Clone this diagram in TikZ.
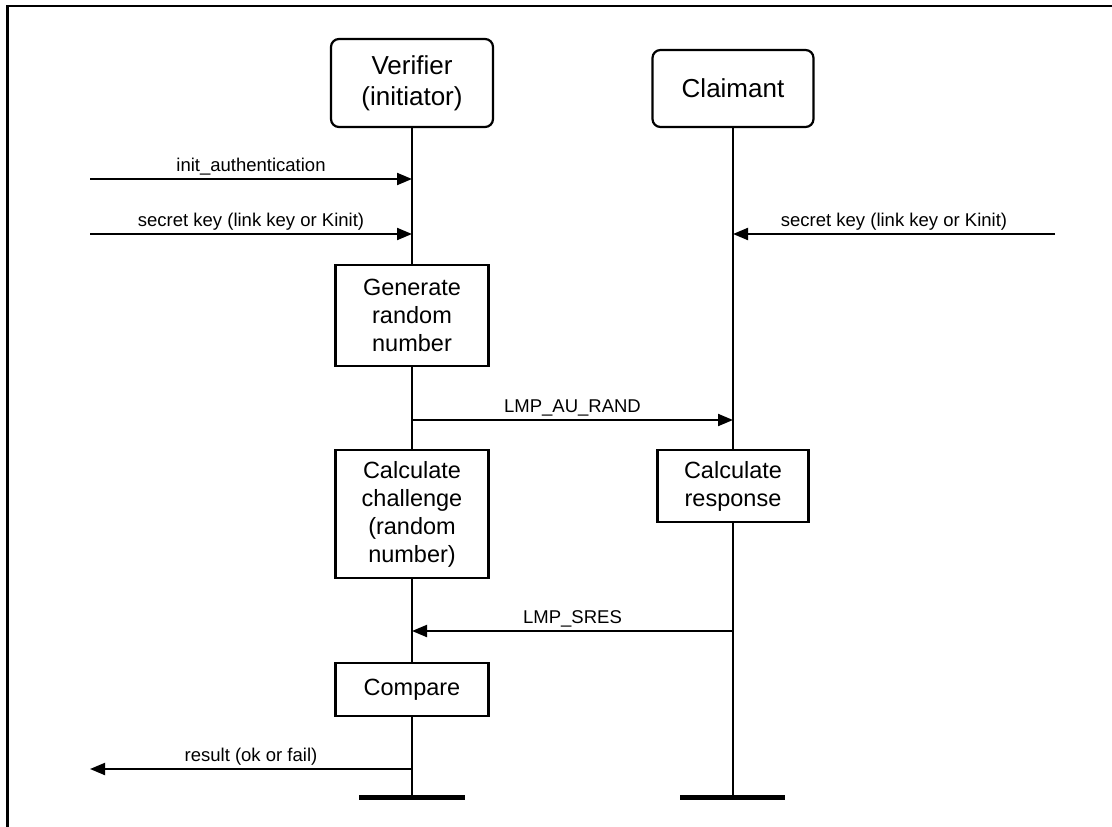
\documentclass[tikz,border=0pt]{standalone}
\usepackage{fontspec}
\setmainfont{Liberation Sans}
\usetikzlibrary{arrows.meta, positioning, calc}
\tikzset{
  actor/.style={
    rectangle, rounded corners=8pt,
    minimum width=162pt, minimum height=88pt,
    inner sep=0pt, align=center, draw, line width=2.2pt,
    fill=white, font=\fontsize{26}{31}\selectfont,
  },
  action/.style={
    rectangle,
    minimum width=153pt, inner sep=0pt,
    align=center, draw, line width=2.2pt,
    fill=white, font=\fontsize{23.5}{28}\selectfont,
  },
  lifeline/.style={line width=2pt},
  endbar/.style={line width=5pt},
  msg/.style={-{Triangle[length=15pt, width=12pt]}, line width=2pt},
  msglabel/.style={font=\fontsize{18.5}{22}\selectfont, inner sep=3pt},
}

\begin{document}
\begin{tikzpicture}[x=1pt, y=-1pt]

  \useasboundingbox (0,0) rectangle (1112,827);
  % open frame
  \draw[line width=2.5pt] (7.5,827) -- (7.5,6) -- (1112,6);

  % actors
  \node[actor] (ver) at (412,83) {Verifier\\(initiator)};
  \node[actor, minimum width=161pt, minimum height=77pt] (cla) at (733,88.5) {Claimant};

  % steps of the verifier
  \node[action, minimum height=101pt] (gen) at (412,315.5) {Generate\\random\\number};
  \node[action, minimum height=128pt] (chal) at (412,514) {Calculate\\challenge\\(random\\number)};
  \node[action, minimum height=53pt] (cmp) at (412,689.5) {Compare};

  % step of the claimant
  \node[action, minimum width=151pt, minimum height=72pt] (resp) at (733,486) {Calculate\\response};

  % ends of the lifelines
  \coordinate (vend) at (412,797);
  \coordinate (cend) at (733,797);

  % lifelines
  \draw[lifeline] (ver) -- (gen);
  \draw[lifeline] (gen) -- (chal);
  \draw[lifeline] (chal) -- (cmp);
  \draw[lifeline] (cmp) -- (vend);
  \draw[lifeline] (cla) -- (resp);
  \draw[lifeline] (resp) -- (cend);
  \draw[endbar] ([xshift=-53pt]vend) -- ([xshift=53pt]vend);
  \draw[endbar] ([xshift=-53pt]cend) -- ([xshift=52pt]cend);

  % message points
  \coordinate (initsrc) at (90,179);
  \coordinate (initdst) at (412,179);
  \coordinate (keyvsrc) at (90,234);
  \coordinate (keyvdst) at (412,234);
  \coordinate (keycsrc) at (1055,234);
  \coordinate (keycdst) at (733,234);
  \coordinate (randsrc) at (412,420);
  \coordinate (randdst) at (733,420);
  \coordinate (sressrc) at (733,631);
  \coordinate (sresdst) at (412,631);
  \coordinate (ressrc) at (412,769);
  \coordinate (resdst) at (90,769);

  % messages
  \draw[msg] (initsrc) -- node[msglabel, above]{init\_authentication} (initdst);
  \draw[msg] (keyvsrc) -- node[msglabel, above]{secret key (link key or Kinit)} (keyvdst);
  \draw[msg] (keycsrc) -- node[msglabel, above]{secret key (link key or Kinit)} (keycdst);
  \draw[msg] (randsrc) -- node[msglabel, above]{LMP\_AU\_RAND} (randdst);
  \draw[msg] (sressrc) -- node[msglabel, above]{LMP\_SRES} (sresdst);
  \draw[msg] (ressrc) -- node[msglabel, above]{result (ok or fail)} (resdst);

\end{tikzpicture}
\end{document}
